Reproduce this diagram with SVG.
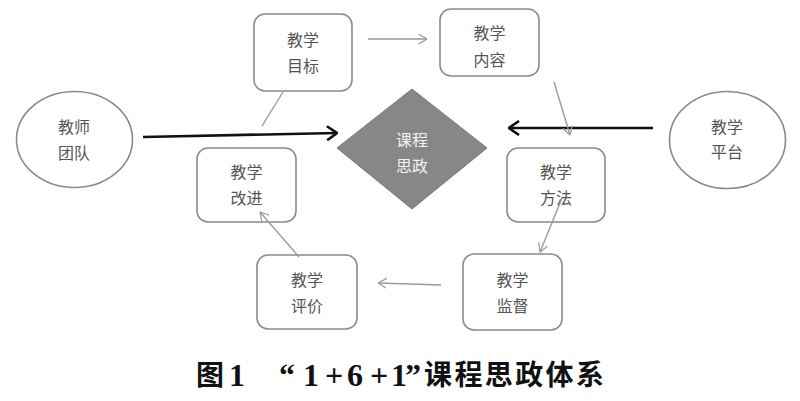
<svg xmlns="http://www.w3.org/2000/svg" width="800" height="401" viewBox="0 0 800 401">
<style>
.box{fill:#fff;stroke:#8a8a8a;stroke-width:1.6}
.ell{fill:#fff;stroke:#8a8a8a;stroke-width:1.6}
.lbl{font-family:"Noto Sans CJK SC","Noto Sans",sans-serif;font-size:16px;fill:#555;text-anchor:middle}
.dlbl{font-family:"Noto Sans CJK SC","Noto Sans",sans-serif;font-size:16px;fill:#f2f2f2;text-anchor:middle}
.g{stroke:#9a9a9a;stroke-width:1.4;fill:none}
.k{stroke:#111;stroke-width:2.6;fill:none}
.cap{font-family:"Liberation Serif","Noto Sans CJK SC",serif;font-weight:bold;font-size:32px;fill:#111}
.capc{font-family:"Noto Sans CJK SC","Noto Sans",sans-serif;font-weight:bold;font-size:28px;fill:#111}
</style>
<defs>
<marker id="ag" viewBox="0 0 10 12" refX="9.5" refY="6" markerWidth="9" markerHeight="11" markerUnits="userSpaceOnUse" orient="auto">
<path d="M0,0.5 L9.5,6 L0,11.5" fill="none" stroke="#9a9a9a" stroke-width="1.4"/>
</marker>
<marker id="ak" viewBox="0 0 12 16" refX="11" refY="8" markerWidth="12" markerHeight="16" markerUnits="userSpaceOnUse" orient="auto">
<path d="M1,1 L11,8 L1,15" fill="none" stroke="#111" stroke-width="2.6"/>
</marker>
</defs>
<rect width="800" height="401" fill="#fff"/>
<g id="n-core">
<polygon points="412,89 487,148 412,209 337,148" fill="#878787" stroke="#7a7a7a" stroke-width="1"/>
<text class="dlbl" x="412" y="146">课程</text>
<text class="dlbl" x="412" y="172">思政</text>
</g>
<g id="n-team">
<ellipse class="ell" cx="74.5" cy="139.5" rx="58" ry="48"/>
<text class="lbl" x="74" y="133">教师</text>
<text class="lbl" x="74" y="159">团队</text>
</g>
<g id="n-platform">
<ellipse class="ell" cx="727.5" cy="140" rx="58" ry="48.5"/>
<text class="lbl" x="727" y="133">教学</text>
<text class="lbl" x="727" y="158">平台</text>
</g>
<g id="n-goal">
<rect class="box" x="254" y="14" width="98" height="77" rx="11"/>
<text class="lbl" x="303" y="46">教学</text>
<text class="lbl" x="303" y="72">目标</text>
</g>
<g id="n-content">
<rect class="box" x="440" y="9" width="99" height="67" rx="11"/>
<text class="lbl" x="489.5" y="39">教学</text>
<text class="lbl" x="489.5" y="66">内容</text>
</g>
<g id="n-improve">
<rect class="box" x="197" y="148" width="99" height="74" rx="11"/>
<text class="lbl" x="246.5" y="178">教学</text>
<text class="lbl" x="246.5" y="204">改进</text>
</g>
<g id="n-method">
<rect class="box" x="507" y="148" width="98" height="74" rx="11"/>
<text class="lbl" x="556" y="178">教学</text>
<text class="lbl" x="556" y="204">方法</text>
</g>
<g id="n-eval">
<rect class="box" x="257" y="255" width="100" height="74" rx="11"/>
<text class="lbl" x="307" y="286">教学</text>
<text class="lbl" x="307" y="312">评价</text>
</g>
<g id="n-supervise">
<rect class="box" x="463" y="254" width="99" height="76" rx="11"/>
<text class="lbl" x="512.5" y="286">教学</text>
<text class="lbl" x="512.5" y="312">监督</text>
</g>
<g id="connectors">
<line class="k" x1="143" y1="137" x2="337" y2="133" marker-end="url(#ak)"/>
<line class="k" x1="653" y1="128" x2="509" y2="128" marker-end="url(#ak)"/>
<line class="g" x1="368" y1="39" x2="427" y2="39" marker-end="url(#ag)"/>
<line class="g" x1="554" y1="82" x2="570" y2="135" marker-end="url(#ag)"/>
<line class="g" x1="562" y1="198" x2="540" y2="252" marker-end="url(#ag)"/>
<line class="g" x1="441" y1="285" x2="378" y2="283" marker-end="url(#ag)"/>
<line class="g" x1="299" y1="257" x2="260" y2="212" marker-end="url(#ag)"/>
<line class="g" x1="262" y1="126" x2="283" y2="92"/>
</g>
<g id="caption">
<text class="capc" x="196" y="385">图</text>
<text class="cap" x="229" y="386">1</text>
<text class="cap" x="279 303 325 347 370 391 405" y="386">“1+6+1”</text>
<text class="capc" x="424" y="385" textLength="180" lengthAdjust="spacing">课程思政体系</text>
</g>
</svg>
